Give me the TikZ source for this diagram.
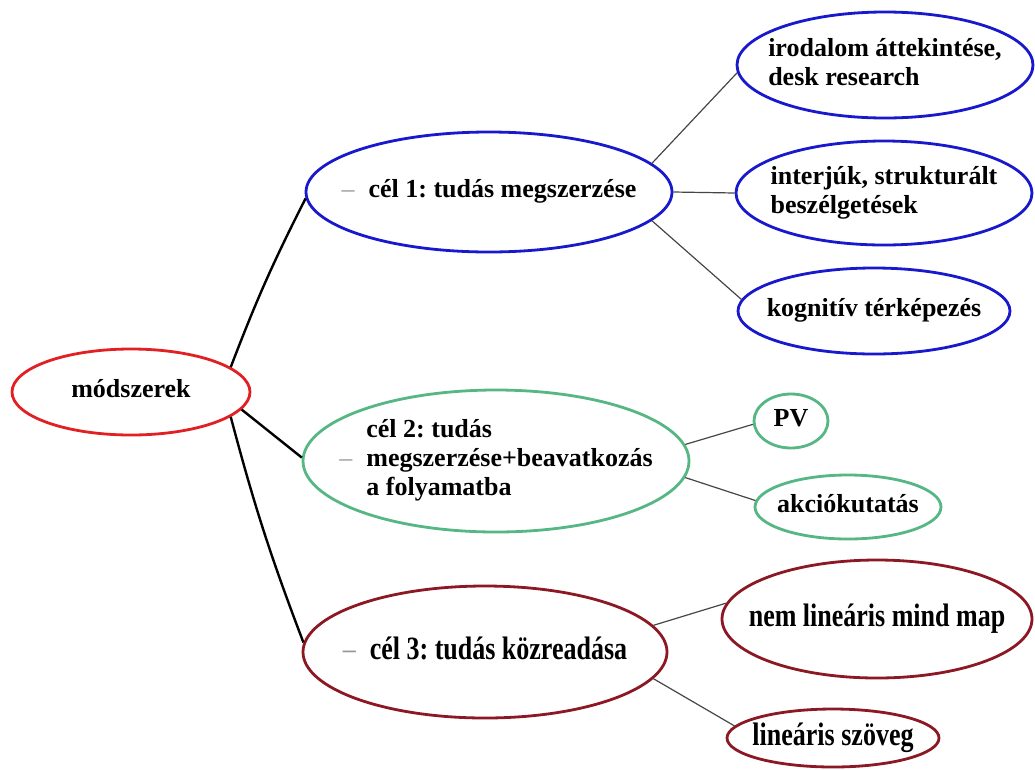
\documentclass[tikz,border=0pt]{standalone}
\usepackage{fontspec}
\usepackage{graphicx}
\setmainfont{Liberation Serif}
\usetikzlibrary{shapes.geometric}
\definecolor{cred}{RGB}{226,32,36}
\definecolor{cblue}{RGB}{24,24,204}
\definecolor{cgreen}{RGB}{86,182,132}
\definecolor{cmaroon}{RGB}{140,24,36}
\definecolor{cdash}{RGB}{150,150,150}
\definecolor{csub}{RGB}{70,70,70}
\frenchspacing
\newcommand\zt[1]{\makebox[0pt]{\raisebox{\dimexpr -0.5\height+0.5\depth\relax}[0pt][0pt]{#1}}}
\newcommand\tl[1]{\begin{tabular}{@{}l@{}}#1\end{tabular}}
\newcommand\gd{\textcolor{cdash}{\mdseries –}}
\newcommand\st[1]{\scalebox{1}[1.25]{#1}}
\begin{document}
\begin{tikzpicture}[x=1pt,y=-1pt,
  ell/.style={ellipse,draw,line width=2.8pt,inner sep=0pt,fill=white,
    font=\fontsize{26}{29}\selectfont\bfseries\frenchspacing},
  mainline/.style={line width=2.4pt,black},
  subline/.style={line width=1.2pt,csub}]
\useasboundingbox (0,0) rectangle (1035,769);
\node[ell,draw=cred,minimum width=238pt,minimum height=86pt] (m) at (131,392) {\zt{\tl{módszerek}}};
\node[ell,draw=cblue,minimum width=366pt,minimum height=120pt] (c1) at (489,192)
  {\zt{\begin{tabular}{@{}l@{\hspace{14pt}}l@{}}\gd & cél 1: tudás megszerzése\end{tabular}}};
\node[ell,draw=cblue,minimum width=296pt,minimum height=106pt] (i1) at (885,65)
  {\zt{\tl{irodalom áttekintése,\\desk research}}};
\node[ell,draw=cblue,minimum width=296pt,minimum height=104pt] (i2) at (884,193)
  {\zt{\tl{interjúk, strukturált\\beszélgetések}}};
\node[ell,draw=cblue,minimum width=272pt,minimum height=86pt] (i3) at (874,311)
  {\zt{\tl{kognitív térképezés}}};
\node[ell,draw=cgreen,minimum width=386pt,minimum height=142pt] (c2) at (496,461)
  {\zt{\begin{tabular}{@{}l@{\hspace{14pt}}l@{}} & cél 2: tudás\\ \gd & megszerzése+beavatkozás\\ & a folyamatba\end{tabular}}};
\node[ell,draw=cgreen,minimum width=74pt,minimum height=54pt] (pv) at (791,421) {\zt{\tl{PV}}};
\node[ell,draw=cgreen,minimum width=186pt,minimum height=64pt] (ak) at (848,507) {\zt{\tl{akciókutatás}}};
\node[ell,draw=cmaroon,minimum width=364pt,minimum height=132pt] (c3) at (485,652)
  {\zt{\raisebox{6pt}{\st{\begin{tabular}{@{}l@{\hspace{14pt}}l@{}}\gd & cél 3: tudás közreadása\end{tabular}}}}};
\node[ell,draw=cmaroon,minimum width=310pt,minimum height=118pt] (nm) at (877,619) {\zt{\st{\tl{nem lineáris mind map}}}};
\node[ell,draw=cmaroon,minimum width=212pt,minimum height=58pt] (ls) at (833,738) {\zt{\st{\tl{lineáris szöveg}}}};
\draw[mainline] (m.14) to[bend left=3] (c1.182);
\draw[mainline] (m.-9) -- (c2.179);
\draw[mainline] (m.-14.5) to[bend right=3] (c3.177);
\draw[subline] (c1.10) -- (i1.183);
\draw[subline] (c1.0) -- (i2.180);
\draw[subline] (c1.-10) -- (i3.175);
\draw[subline] (c2.5) -- (pv.185);
\draw[subline] (c2.-5) -- (ak.176);
\draw[subline] (c3.9) -- (nm.174);
\draw[subline] (c3.-9) -- (ls.173);
\end{tikzpicture}
\end{document}
